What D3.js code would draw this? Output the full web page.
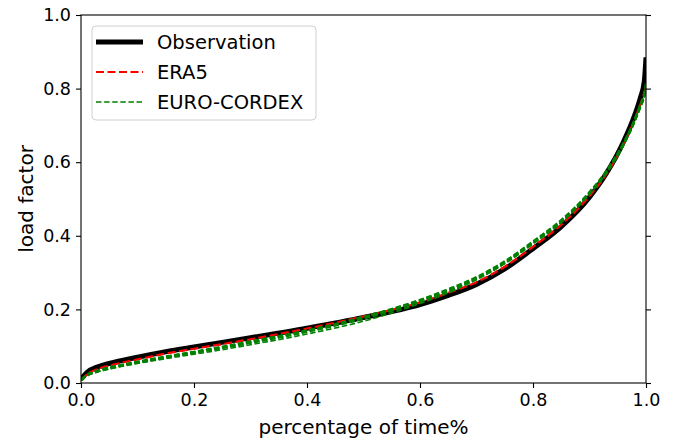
<!DOCTYPE html>
<html>
<head>
<meta charset="utf-8">
<script src="https://cdn.jsdelivr.net/npm/d3@7"></script>
<style>
  body { margin: 0; background: #fff; }
  svg text { font-family: "DejaVu Sans", sans-serif; fill: #000; }
</style>
</head>
<body>
<div id="chart"></div>
<script>
// shared x grid (fraction of time)
var timeFrac = [0, 0.01, 0.03, 0.05, 0.1, 0.15, 0.2, 0.3, 0.4, 0.5, 0.6, 0.65, 0.7, 0.75, 0.8, 0.85, 0.9, 0.93, 0.96, 0.98, 0.99, 0.997, 1.0];

var observation = [0.010, 0.028, 0.044, 0.053, 0.070, 0.085, 0.098, 0.123, 0.149, 0.178, 0.213, 0.238, 0.268, 0.310, 0.365, 0.425, 0.505, 0.570, 0.655, 0.728, 0.775, 0.820, 0.885];
var era5 = [0.008, 0.023, 0.038, 0.047, 0.064, 0.080, 0.093, 0.119, 0.148, 0.181, 0.219, 0.245, 0.274, 0.316, 0.370, 0.430, 0.508, 0.568, 0.648, 0.716, 0.757, 0.788, 0.800];

// EURO-CORDEX members (last one is the lower outlier)
var cordexMembers = [
  [0.008, 0.021, 0.033, 0.041, 0.057, 0.071, 0.084, 0.112, 0.142, 0.178, 0.224, 0.252, 0.285, 0.328, 0.382, 0.440, 0.517, 0.575, 0.650, 0.715, 0.755, 0.785, 0.810],
  [0.007, 0.019, 0.031, 0.039, 0.055, 0.069, 0.082, 0.109, 0.139, 0.175, 0.221, 0.249, 0.282, 0.325, 0.379, 0.437, 0.514, 0.572, 0.647, 0.711, 0.750, 0.780, 0.805],
  [0.009, 0.022, 0.034, 0.042, 0.058, 0.072, 0.085, 0.113, 0.143, 0.180, 0.226, 0.255, 0.288, 0.331, 0.385, 0.443, 0.519, 0.577, 0.652, 0.717, 0.757, 0.788, 0.815],
  [0.008, 0.020, 0.032, 0.040, 0.056, 0.070, 0.083, 0.110, 0.140, 0.176, 0.223, 0.251, 0.284, 0.327, 0.381, 0.439, 0.516, 0.573, 0.648, 0.713, 0.752, 0.782, 0.807],
  [0.008, 0.020, 0.031, 0.038, 0.053, 0.066, 0.078, 0.104, 0.133, 0.168, 0.216, 0.245, 0.281, 0.325, 0.379, 0.437, 0.513, 0.570, 0.645, 0.710, 0.748, 0.778, 0.800]
];

var xTicks = [0, 0.2, 0.4, 0.6, 0.8, 1.0];
var yTicks = [0, 0.2, 0.4, 0.6, 0.8, 1.0];

var width = 675, height = 438;
var margin = {top: 15, right: 29, bottom: 55, left: 81};
var plotW = width - margin.left - margin.right;
var plotH = height - margin.top - margin.bottom;

var svg = d3.select("#chart").append("svg")
    .attr("width", width)
    .attr("height", height);

var g = svg.append("g").attr("transform", "translate(" + margin.left + "," + margin.top + ")");

var xScale = d3.scaleLinear().domain([0, 1]).range([0, plotW]);
var yScale = d3.scaleLinear().domain([0, 1]).range([plotH, 0]);

var line = d3.line()
    .x(function(d){ return xScale(d[0]); })
    .y(function(d){ return yScale(d[1]); })
    .curve(d3.curveMonotoneX);

function pairs(vals){
  return timeFrac.map(function(t, i){ return [t, vals[i]]; });
}

svg.append("defs").append("clipPath").attr("id", "clip")
    .append("rect").attr("width", plotW).attr("height", plotH);

var lines = g.append("g").attr("clip-path", "url(#clip)");

lines.append("path")
    .attr("d", line(pairs(observation)))
    .attr("fill", "none")
    .attr("stroke", "#000")
    .attr("stroke-width", 5);

lines.append("path")
    .attr("d", line(pairs(era5)))
    .attr("fill", "none")
    .attr("stroke", "#ff0000")
    .attr("stroke-width", 2.2)
    .attr("stroke-dasharray", "8,3.5");

cordexMembers.forEach(function(m, i){
  lines.append("path")
      .attr("d", line(pairs(m)))
      .attr("fill", "none")
      .attr("stroke", "#008000")
      .attr("stroke-width", i == cordexMembers.length - 1 ? 1.6 : 2.2)
      .attr("stroke-dasharray", "5.5,2.6");
});

// axes
var xAxis = d3.axisBottom(xScale).tickValues(xTicks).tickSize(5).tickPadding(6)
    .tickFormat(d3.format(".1f"));
var yAxis = d3.axisLeft(yScale).tickValues(yTicks).tickSize(5).tickPadding(5)
    .tickFormat(d3.format(".1f"));
var yAxisR = d3.axisRight(yScale).tickValues(yTicks).tickSize(5).tickFormat("");

var gx = g.append("g").attr("transform", "translate(0," + plotH + ")").call(xAxis);
var gy = g.append("g").call(yAxis);
var gyr = g.append("g").attr("transform", "translate(" + plotW + ",0)").call(yAxisR);

[gx, gy, gyr].forEach(function(a){
  a.select(".domain").remove();
  a.selectAll("line").attr("stroke", "#000").attr("stroke-width", 1.1);
  a.selectAll("text").style("font-size", "17.5px").style("font-family", "DejaVu Sans, sans-serif");
});

// frame
g.append("rect")
    .attr("width", plotW).attr("height", plotH)
    .attr("fill", "none").attr("stroke", "#000").attr("stroke-width", 1.1);

// axis labels
svg.append("text")
    .attr("x", margin.left + plotW / 2)
    .attr("y", 434)
    .attr("text-anchor", "middle")
    .style("font-size", "20px")
    .text("percentage of time%");

svg.append("text")
    .attr("transform", "translate(33," + (margin.top + plotH / 2) + ") rotate(-90)")
    .attr("text-anchor", "middle")
    .style("font-size", "20px")
    .text("load factor");

// legend
var legend = svg.append("g").attr("transform", "translate(92,26)");
legend.append("rect")
    .attr("width", 224).attr("height", 94)
    .attr("rx", 4).attr("ry", 4)
    .attr("fill", "#fff").attr("fill-opacity", 0.8)
    .attr("stroke", "#d0d0d0").attr("stroke-width", 1);

var legendItems = [
  {label: "Observation", color: "#000", w: 5, dash: null},
  {label: "ERA5", color: "#ff0000", w: 2.2, dash: "8,3.5"},
  {label: "EURO-CORDEX", color: "#008000", w: 1.6, dash: "5.5,2.6"}
];

legendItems.forEach(function(it, i){
  var yy = 16 + i * 30;
  legend.append("line")
      .attr("x1", 4).attr("x2", 51)
      .attr("y1", yy).attr("y2", yy)
      .attr("stroke", it.color)
      .attr("stroke-width", it.w)
      .attr("stroke-dasharray", it.dash);
  legend.append("text")
      .attr("x", 65).attr("y", yy + 7)
      .style("font-size", "19.5px")
      .text(it.label);
});
</script>
</body>
</html>
